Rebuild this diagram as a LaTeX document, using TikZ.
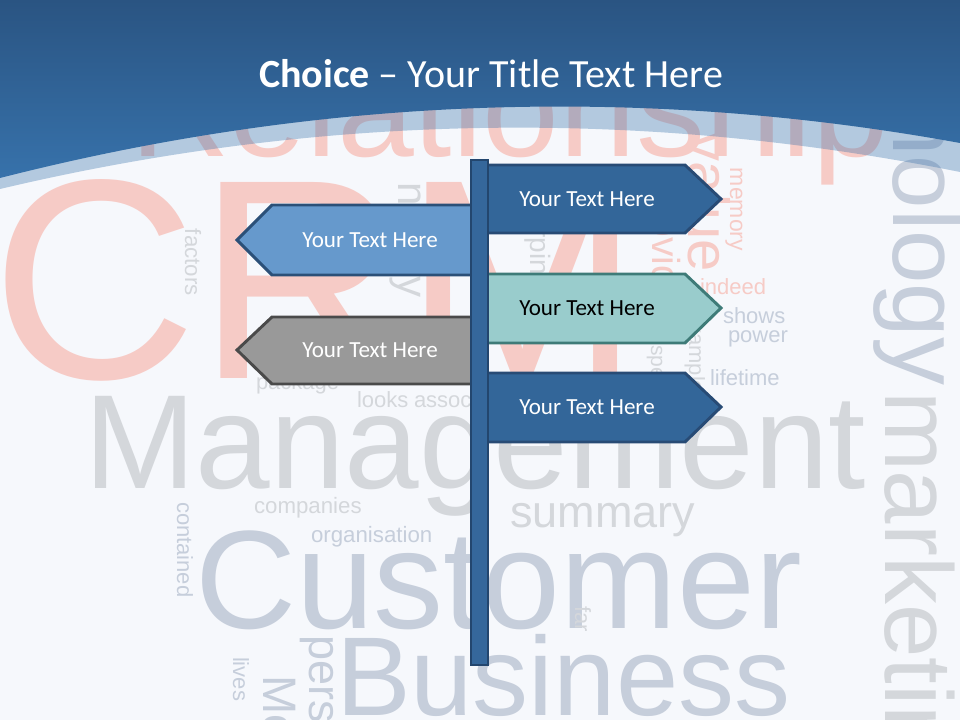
\documentclass[tikz,border=0pt]{standalone}
\usepackage{fontspec}
\setmainfont{Carlito}
\newfontfamily\wcfont{Liberation Sans}
\newcommand\wsz[1]{\wcfont\fontsize{#1}{#1}\selectfont}
\definecolor{bgc}{HTML}{F6F8FC}
\definecolor{wpink}{HTML}{F6CBC6}
\definecolor{wgray}{HTML}{D4D7DB}
\definecolor{wblue}{HTML}{C6CEDB}
\definecolor{hdrtop}{HTML}{2A5482}
\definecolor{hdrbot}{HTML}{3772AB}
\definecolor{darkfill}{HTML}{336699}
\definecolor{darkline}{HTML}{284B75}
\definecolor{lightfill}{HTML}{6699CC}
\definecolor{lightline}{HTML}{2B5078}
\definecolor{tealfill}{HTML}{99CCCC}
\definecolor{tealline}{HTML}{3E7B78}
\definecolor{grayfill}{HTML}{999999}
\definecolor{grayline}{HTML}{4A4A4A}
\definecolor{polefill}{HTML}{35679B}
\definecolor{poleline}{HTML}{23466E}
\begin{document}
\begin{tikzpicture}[x=0.75pt,y=-0.75pt,
  wd/.style={inner sep=0pt, outer sep=0pt, anchor=base west},
  pk/.style={wd,text=wpink},
  gy/.style={wd,text=wgray},
  bl/.style={wd,text=wblue},
  vt/.style={rotate=-90},
  signdark/.style={fill=darkfill, draw=darkline, line width=2.2pt, line join=miter},
  signlight/.style={fill=lightfill, draw=lightline, line width=2.2pt, line join=miter},
  signteal/.style={fill=tealfill, draw=tealline, line width=2.2pt, line join=miter},
  signgray/.style={fill=grayfill, draw=grayline, line width=2.2pt, line join=miter},
  signtext/.style={font=\fontsize{17.3}{20}\selectfont, inner sep=0pt, text=white},
]
\useasboundingbox (0,0) rectangle (960,720);
\clip (0,0) rectangle (960,720);
\fill[bgc] (0,0) rectangle (960,720);

% word cloud
\node[pk, font=\wsz{213.75pt}] (wcrm) at (-8,378) {CRM};
\node[pk, font=\wsz{103.5pt}] (wrel) at (130,157) {Relationship};
\node[gy, font=\wsz{100.5pt}] (wman) at (84,488) {Management};
\node[bl, font=\wsz{105pt}] (wcus) at (195,628) {Customer};
\node[bl, font=\wsz{84pt}] (wbus) at (336,715) {Business};
\node[gy, font=\wsz{33.75pt}] (wsum) at (510,527) {summary};
\node[gy, font=\wsz{16.7pt}] (wcom) at (254,513) {companies};
\node[bl, font=\wsz{16.7pt}] (worg) at (311,542) {organisation};
\node[bl, vt, font=\wsz{72pt}] (wtec) at (893,-79) {technology};
\node[gy, vt, font=\wsz{72pt}] (wmar) at (885,391) {marketing};
\node[bl, vt, font=\wsz{16.5pt}] (wcon) at (177,502) {contained};
\node[gy, vt, font=\wsz{16.7pt}] (wfac) at (185,229) {factors};
\node[gy, vt, font=\wsz{31.5pt}] (wnea) at (398,183) {nearly};
\node[gy, vt, font=\wsz{21pt}] (wund) at (530,166) {underpins};
\node[pk, vt, font=\wsz{29.25pt}] (wpro) at (652,181) {provide};
\node[pk, vt, font=\wsz{43.5pt}] (wval) at (688,133) {value};
\node[pk, vt, font=\wsz{17.25pt}] (wmem) at (730,168) {memory};
\node[pk, font=\wsz{16.5pt}] (wind) at (700,295) {indeed};
\node[bl, font=\wsz{16.5pt}] (wsho) at (723,323) {shows};
\node[bl, font=\wsz{16.5pt}] (wpow) at (728,342) {power};
\node[bl, font=\wsz{16.5pt}] (wlif) at (710,385) {lifetime};
\node[gy, vt, font=\wsz{15.75pt}] (wspe) at (651,345) {special};
\node[gy, vt, font=\wsz{16.5pt}] (wexa) at (689,310) {example};
\node[gy, font=\wsz{16.5pt}] (wpac) at (256,389) {package};
\node[gy, font=\wsz{16.5pt}] (wloo) at (357,407) {looks};
\node[gy, font=\wsz{16.5pt}] (wass) at (414,407) {associated};
\node[gy, vt, font=\wsz{16.5pt}] (wfar) at (575,606) {far};
\node[bl, vt, font=\wsz{16.5pt}] (wliv) at (233,657) {lives};
\node[bl, vt, font=\wsz{35.25pt}] (wmos) at (263,675) {Most};
\node[bl, vt, font=\wsz{33.75pt}] (wper) at (309,635) {personal};

% header band and header
\fill[hdrbot, fill opacity=0.35] (0,0) -- (0,189) .. controls (320,113.3) and (640,107.7) .. (960,172) -- (960,0) -- cycle;
\shade[top color=hdrtop, bottom color=hdrbot] (0,0) -- (0,178) .. controls (320,96.3) and (640,84.7) .. (960,143) -- (960,0) -- cycle;
\node[anchor=base, text=white, inner sep=0pt, font=\fontsize{30}{36}\selectfont] (title) at (491,88) {\textbf{Choice} – Your Title Text Here};

% signs
\draw[signdark] (480,165) -- (685,165) -- (721,199) -- (685,233) -- (480,233) -- cycle;
\draw[signlight] (478,205) -- (272,205) -- (237,240) -- (272,275) -- (478,275) -- cycle;
\draw[signteal] (480,274) -- (685,274) -- (721,308) -- (685,343) -- (480,343) -- cycle;
\draw[signgray] (478,317) -- (272,317) -- (237,350) -- (272,384) -- (478,384) -- cycle;
\draw[signdark] (480,373) -- (685,373) -- (721,407) -- (685,442) -- (480,442) -- cycle;
\draw[fill=polefill, draw=poleline, line width=1.5pt] (471,160) rectangle (488,665);

\node[signtext] (t1) at (587,199) {Your Text Here};
\node[signtext] (t2) at (370,240) {Your Text Here};
\node[signtext, text=black] (t3) at (587,308) {Your Text Here};
\node[signtext] (t4) at (370,350) {Your Text Here};
\node[signtext] (t5) at (587,407) {Your Text Here};
\end{tikzpicture}
\end{document}
